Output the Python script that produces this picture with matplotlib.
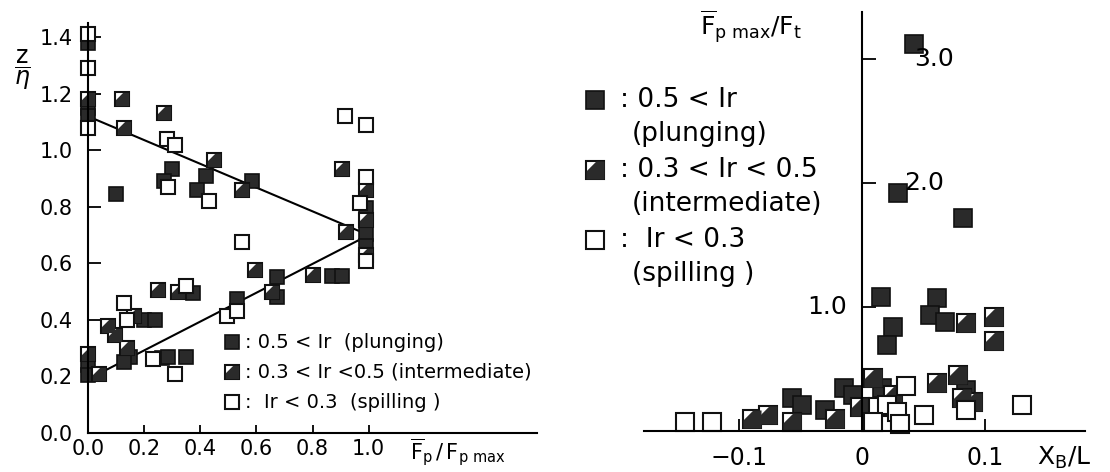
import numpy as np
import matplotlib
matplotlib.use("Agg")
import matplotlib.pyplot as plt
from matplotlib.path import Path

# ---- left panel: z/eta vs Fp/Fp max ----
L_PLUNG_X = [0.0, 0.0, 0.0, 0.10, 0.30, 0.27, 0.42, 0.39, 0.585, 0.99, 0.99, 0.99,
             0.87, 0.905, 0.675, 0.675, 0.53, 0.0, 0.0, 0.20, 0.24, 0.375, 0.15,
             0.13, 0.265, 0.285, 0.35]
L_PLUNG_Y = [1.38, 1.15, 1.12, 0.845, 0.935, 0.89, 0.91, 0.86, 0.89, 0.795, 0.705, 0.66,
             0.555, 0.555, 0.55, 0.48, 0.475, 0.24, 0.205, 0.40, 0.40, 0.495, 0.27,
             0.25, 0.265, 0.27, 0.27]
L_INTER_X = [0.0, 0.12, 0.13, 0.27, 0.45, 0.55, 0.905, 0.99, 0.99, 0.92, 0.99, 0.80,
             0.595, 0.655, 0.0, 0.04, 0.07, 0.095, 0.165, 0.25, 0.32, 0.14]
L_INTER_Y = [1.18, 1.18, 1.08, 1.13, 0.965, 0.86, 0.935, 0.86, 0.755, 0.71, 0.63, 0.56,
             0.575, 0.50, 0.28, 0.21, 0.38, 0.345, 0.415, 0.505, 0.50, 0.30]
L_SPILL_X = [0.0, 0.0, 0.0, 0.28, 0.31, 0.285, 0.43, 0.915, 0.99, 0.99, 0.97, 0.99,
             0.55, 0.495, 0.53, 0.13, 0.14, 0.35, 0.23, 0.31]
L_SPILL_Y = [1.41, 1.29, 1.08, 1.04, 1.02, 0.87, 0.82, 1.12, 1.09, 0.905, 0.815, 0.61,
             0.675, 0.415, 0.43, 0.46, 0.40, 0.52, 0.26, 0.21]
FIT_X = [0.0, 1.0]
FIT_UPPER = [1.12, 0.70]
FIT_LOWER = [0.19, 0.70]
L_XTICKS = [0.0, 0.2, 0.4, 0.6, 0.8, 1.0]
L_YTICKS = [0.0, 0.2, 0.4, 0.6, 0.8, 1.0, 1.2, 1.4]

# ---- right panel: Fp max/Ft vs XB/L ----
R_PLUNG_X = [0.042, 0.029, 0.082, 0.015, 0.025, 0.02, 0.061, 0.055, 0.067, -0.057,
             -0.049, -0.030, -0.015, -0.007, 0.016, 0.084]
R_PLUNG_Y = [3.12, 1.92, 1.72, 1.08, 0.84, 0.69, 1.07, 0.935, 0.88, 0.27,
             0.21, 0.17, 0.35, 0.29, 0.35, 0.33]
R_INTER_X = [0.084, 0.107, 0.107, -0.089, -0.076, -0.057, -0.022, -0.002, 0.009,
             0.025, 0.061, 0.078, 0.081, 0.090]
R_INTER_Y = [0.87, 0.92, 0.73, 0.10, 0.13, 0.07, 0.10, 0.19, 0.43,
             0.29, 0.39, 0.45, 0.27, 0.23]
R_SPILL_X = [-0.144, -0.122, 0.036, 0.013, 0.020, 0.028, 0.009, 0.031, 0.050, 0.084, 0.130]
R_SPILL_Y = [0.07, 0.07, 0.36, 0.19, 0.21, 0.15, 0.07, 0.06, 0.13, 0.17, 0.21]
R_XTICKS = [-0.1, 0.0, 0.1]
R_XLABELS = ["\u22120.1", "0", "0.1"]
R_YTICKS = [1.0, 2.0, 3.0]

DARK = "#2a2a2a"
EDGE = "#111111"
HALF = Path([(-1, -1), (1, -1), (1, 1), (0.1, 1), (-1, -0.1), (-1, -1)])
W, H = 1110, 472


def marks(ax, x, y, kind, ms, **kw):
    if kind == "plunging":
        ax.plot(x, y, "s", ms=ms, mfc=DARK, mec=EDGE, mew=1.2, ls="none",
                clip_on=False, **kw)
    else:
        ax.plot(x, y, "s", ms=ms, mfc="white", mec=EDGE, mew=1.5, ls="none",
                clip_on=False, **kw)
        if kind == "intermediate":
            ax.plot(x, y, marker=HALF, ms=ms, mfc=DARK, mec="none", ls="none",
                    clip_on=False, **kw)


def fpos(px, py):
    return px / W, 1 - py / H


fig = plt.figure(figsize=(W / 100, H / 100), dpi=100)

# left panel
axL = fig.add_axes([88 / W, 39 / H, 449 / W, 410 / H])
axL.set_xlim(0, 1.6)
axL.set_ylim(0, 1.45)
for s in ("top", "right"):
    axL.spines[s].set_visible(False)
for s in ("left", "bottom"):
    axL.spines[s].set_linewidth(1.5)
axL.plot(FIT_X, FIT_UPPER, color="black", lw=1.5)
axL.plot(FIT_X, FIT_LOWER, color="black", lw=1.5)
marks(axL, L_PLUNG_X, L_PLUNG_Y, "plunging", 9.5)
marks(axL, L_INTER_X, L_INTER_Y, "intermediate", 9.5)
marks(axL, L_SPILL_X, L_SPILL_Y, "spilling", 9.5)
axL.set_xticks(L_XTICKS)
axL.set_xticklabels([f"{v:.1f}" for v in L_XTICKS])
axL.set_yticks(L_YTICKS)
axL.set_yticklabels([f"{v:.1f}" for v in L_YTICKS])
axL.tick_params(axis="x", direction="in", length=6, width=1.3, pad=4, labelsize=15)
axL.tick_params(axis="y", direction="in", length=9, width=1.3, pad=11, labelsize=15)

fig.text(*fpos(22, 70), r"$\dfrac{\mathrm{z}}{\eta}$", ha="center", va="center",
         fontsize=17)
fig.text(*fpos(410, 452), r"$\overline{\mathrm{F}}_{\mathrm{p}}\,/\,\mathrm{F}_{\mathrm{p\ max}}$",
         ha="left", va="center", fontsize=15)

left_legend = [("plunging", 342, ": 0.5 < Ir  (plunging)"),
               ("intermediate", 372, ": 0.3 < Ir <0.5 (intermediate)"),
               ("spilling", 402, ":  Ir < 0.3  (spilling )")]
for kind, py, txt in left_legend:
    x, y = fpos(232, py)
    marks(axL, [x], [y], kind, 9.5, transform=fig.transFigure)
    fig.text(*fpos(245, py), txt, ha="left", va="center", fontsize=14)

# right panel
axR = fig.add_axes([644 / W, 41 / H, 441 / W, 419 / H])
axR.set_xlim(-0.177, 0.181)
axR.set_ylim(0, 3.38)
for s in ("top", "right"):
    axR.spines[s].set_visible(False)
axR.spines["left"].set_position(("data", 0))
for s in ("left", "bottom"):
    axR.spines[s].set_linewidth(1.5)
marks(axR, R_PLUNG_X, R_PLUNG_Y, "plunging", 13)
marks(axR, R_INTER_X, R_INTER_Y, "intermediate", 13)
marks(axR, R_SPILL_X, R_SPILL_Y, "spilling", 13)
axR.set_xticks(R_XTICKS)
axR.set_xticklabels(R_XLABELS)
axR.set_yticks(R_YTICKS)
axR.set_yticklabels([])
axR.tick_params(axis="x", direction="in", length=9, width=1.3, pad=11, labelsize=17)
axR.tick_params(axis="y", direction="in", length=10, width=1.3)
for v in R_YTICKS:
    if v < 1.5:
        axR.text(-0.012, v, f"{v:.1f}", ha="right", va="center", fontsize=18)
    else:
        axR.text(0.034 if v < 2.5 else 0.042, v, f"{v:.1f}", ha="left",
                 va="center", fontsize=18)

fig.text(*fpos(700, 27), r"$\overline{\mathrm{F}}_{\mathrm{p\ max}}/\mathrm{F}_{\mathrm{t}}$",
         ha="left", va="center", fontsize=18)
fig.text(*fpos(1037, 458), r"$\mathrm{X}_{\mathrm{B}}/\mathrm{L}$", ha="left",
         va="center", fontsize=18)

right_legend = [("plunging", 100, ": 0.5 < Ir", "(plunging)"),
                ("intermediate", 170, ": 0.3 < Ir < 0.5", "(intermediate)"),
                ("spilling", 240, ":  Ir < 0.3", "(spilling )")]
for kind, py, l1, l2 in right_legend:
    x, y = fpos(595, py)
    marks(axR, [x], [y], kind, 13, transform=fig.transFigure)
    fig.text(*fpos(620, py), l1, ha="left", va="center", fontsize=19)
    fig.text(*fpos(632, py + 34), l2, ha="left", va="center", fontsize=19)

fig.savefig("out.png", dpi=100)
plt.close(fig)
